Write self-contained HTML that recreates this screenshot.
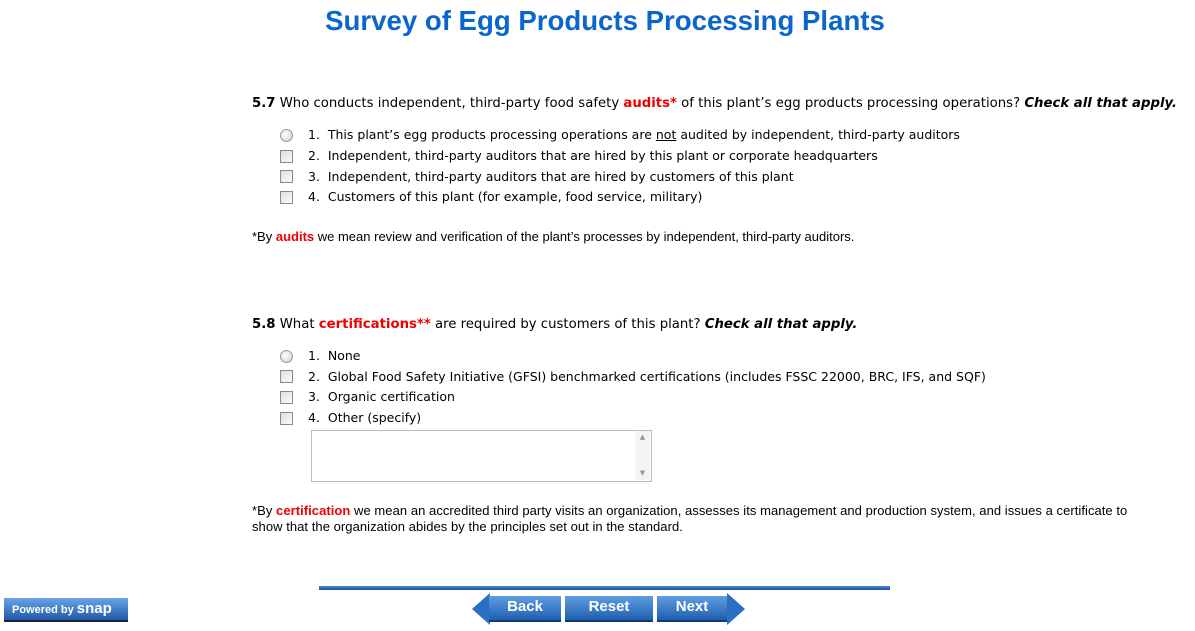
<!DOCTYPE html>
<html><head><style>
body{margin:0;width:1195px;height:631px;background:#fff;position:relative;overflow:hidden;font-family:"DejaVu Sans",Verdana,sans-serif;font-size:12.5px;color:#000}
.a{position:absolute;white-space:nowrap}
.q{font-size:13.25px}
h1{position:absolute;left:0;width:1210px;top:5px;margin:0;text-align:center;font-family:"Liberation Sans",Arial,sans-serif;font-size:27.6px;font-weight:bold;color:#0a66cc}
.r{color:#e00;font-weight:bold}
.ar{font-family:"Liberation Sans",Arial,sans-serif;font-size:13px}
.cb{position:absolute;width:11px;height:11px;border:1px solid #8a8a8a;background:linear-gradient(135deg,#ddd,#fafafa)}
.rd{position:absolute;width:11px;height:11px;border:1px solid #999;border-radius:50%;background:radial-gradient(circle at 40% 40%,#fff,#ccc)}
.btn{position:absolute;top:596px;height:24px;background:linear-gradient(#5f9de0,#1f5fb0);color:#fff;font-family:"Liberation Sans",Arial,sans-serif;font-weight:bold;font-size:15px;text-align:center;line-height:22px;border-bottom:2px solid #103a70}
</style></head><body>
<h1>Survey of Egg Products Processing Plants</h1>
<div class="a q" style="left:252px;top:96px"><b>5.7</b> Who conducts independent, third-party food safety <span class="r">audits*</span> of this plant’s egg products processing operations? <b><i>Check all that apply.</i></b></div>
<div class="rd" style="left:280px;top:129px"></div><div class="a" style="left:308px;top:127px">1.&nbsp; This plant’s egg products processing operations are <u>not</u> audited by independent, third-party auditors</div>
<div class="cb" style="left:280px;top:150px"></div><div class="a" style="left:308px;top:148px">2.&nbsp; Independent, third-party auditors that are hired by this plant or corporate headquarters</div>
<div class="cb" style="left:280px;top:170px"></div><div class="a" style="left:308px;top:169px">3.&nbsp; Independent, third-party auditors that are hired by customers of this plant</div>
<div class="cb" style="left:280px;top:191px"></div><div class="a" style="left:308px;top:189px">4.&nbsp; Customers of this plant (for example, food service, military)</div>
<div class="a ar" style="left:252px;top:229px">*By <span class="r">audits</span> we mean review and verification of the plant’s processes by independent, third-party auditors.</div>

<div class="a q" style="left:252px;top:317px"><b>5.8</b> What <span class="r">certifications**</span> are required by customers of this plant? <b><i>Check all that apply.</i></b></div>
<div class="rd" style="left:280px;top:350px"></div><div class="a" style="left:308px;top:348px">1.&nbsp; None</div>
<div class="cb" style="left:280px;top:370px"></div><div class="a" style="left:308px;top:369px">2.&nbsp; Global Food Safety Initiative (GFSI) benchmarked certifications (includes FSSC 22000, BRC, IFS, and SQF)</div>
<div class="cb" style="left:280px;top:391px"></div><div class="a" style="left:308px;top:389px">3.&nbsp; Organic certification</div>
<div class="cb" style="left:280px;top:412px"></div><div class="a" style="left:308px;top:410px">4.&nbsp; Other (specify)</div>
<div style="position:absolute;left:311px;top:430px;width:339px;height:50px;border:1px solid #bbb"></div>
<div style="position:absolute;left:635px;top:431px;width:15px;height:49px;background:#f4f4f4;color:#999;font-size:7px;text-align:center;line-height:12px">▲<br><br><br>▼</div>
<div class="a ar" style="left:252px;top:503px;line-height:16px;letter-spacing:0.05px">*By <span class="r">certification</span> we mean an accredited third party visits an organization, assesses its management and production system, and issues a certificate to<br>show that the organization abides by the principles set out in the standard.</div>

<div style="position:absolute;left:319px;top:586px;width:571px;height:4px;background:linear-gradient(#4a8ad8,#1a4f9a)"></div>
<div style="position:absolute;left:4px;top:598px;width:124px;height:24px;background:linear-gradient(#6aa3e6,#1f5aa8);border-bottom:2px solid #223;color:#fff;font-family:'Liberation Sans',Arial,sans-serif;font-size:11px;font-weight:bold;line-height:22px;padding-left:8px;box-sizing:border-box">Powered by <span style="font-size:15px">snap</span></div>
<div style="position:absolute;left:472px;top:593px;width:0;height:0;border-top:16px solid transparent;border-bottom:16px solid transparent;border-right:18px solid #2a6fc4"></div>
<div class="btn" style="left:489px;width:72px">Back</div>
<div class="btn" style="left:565px;width:88px">Reset</div>
<div class="btn" style="left:657px;width:70px">Next</div>
<div style="position:absolute;left:727px;top:593px;width:0;height:0;border-top:16px solid transparent;border-bottom:16px solid transparent;border-left:18px solid #2a6fc4"></div>
</body></html>
